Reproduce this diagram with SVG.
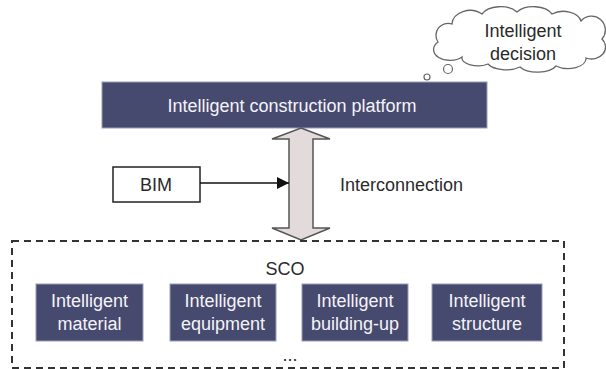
<svg xmlns="http://www.w3.org/2000/svg" width="606" height="369" viewBox="0 0 606 369">
<defs>
<style>
.nav{fill:#474a6f;stroke:#9a9cb8;stroke-width:1}
.wt{fill:#f4f4f8;font-family:"Liberation Sans",Arial,sans-serif;font-size:18px;text-anchor:middle}
.bt{fill:#2a2a2a;font-family:"Liberation Sans",Arial,sans-serif;font-size:18px}
</style>
<marker id="ah" viewBox="0 0 10 10" refX="10" refY="5" markerWidth="12" markerHeight="12" markerUnits="userSpaceOnUse" orient="auto">
<path d="M0,0 L10,5 L0,10 Z" fill="#111"/>
</marker>
</defs>
<rect width="606" height="369" fill="#ffffff"/>

<g id="cloud">
<path d="M438,42 A12,12 0 0 1 452,24 A18,14 0 0 1 482,14 A20,12 0 0 1 517,12 A20,12 0 0 1 552,14 A18,12 0 0 1 581,21 A12,12 0 0 1 602,39 A14,12 0 0 1 586,58 A18,10 0 0 1 556,66 A20,10 0 0 1 520,67 A20,10 0 0 1 488,64 A16,8 0 0 1 462,57 A12,8 0 0 1 438,42 Z" fill="#ffffff" stroke="#666" stroke-width="1.3"/>
<circle cx="448" cy="69" r="4.5" fill="#fff" stroke="#666" stroke-width="1.2"/>
<circle cx="427" cy="77" r="3" fill="#fff" stroke="#666" stroke-width="1.2"/>
<text class="bt" x="523" y="37" text-anchor="middle">Intelligent</text>
<text class="bt" x="523" y="60" text-anchor="middle">decision</text>
</g>

<g id="platform">
<rect class="nav" x="102" y="82" width="385" height="46"/>
<text class="wt" x="292" y="112">Intelligent construction platform</text>
</g>

<g id="bim">
<rect x="113" y="167" width="87" height="35" fill="#fff" stroke="#222" stroke-width="1.5"/>
<text class="bt" x="156" y="191" text-anchor="middle">BIM</text>
</g>

<g id="interconnection">
<text class="bt" x="340" y="191">Interconnection</text>
</g>

<g id="connectors">
<path d="M301,128 L330,139 L313,139 L313,228 L330,228 L301,240 L272,228 L289,228 L289,139 L272,139 Z" fill="#e2dadb" stroke="#555" stroke-width="1.5" stroke-linejoin="miter"/>
<line x1="200" y1="183" x2="289" y2="183" stroke="#111" stroke-width="1.5" marker-end="url(#ah)"/>
</g>

<g id="sco">
<rect x="12" y="241" width="552" height="127" fill="none" stroke="#333" stroke-width="2" stroke-dasharray="7,5"/>
<text class="bt" x="285" y="275" text-anchor="middle">SCO</text>
<text class="bt" x="290" y="361" text-anchor="middle">...</text>
</g>

<g id="material">
<rect class="nav" x="36" y="284" width="107" height="57"/>
<text class="wt" x="89.5" y="307">Intelligent</text>
<text class="wt" x="89.5" y="330">material</text>
</g>
<g id="equipment">
<rect class="nav" x="170" y="284" width="106" height="57"/>
<text class="wt" x="223" y="307">Intelligent</text>
<text class="wt" x="223" y="330">equipment</text>
</g>
<g id="building-up">
<rect class="nav" x="302" y="284" width="106" height="57"/>
<text class="wt" x="355" y="307">Intelligent</text>
<text class="wt" x="355" y="330">building-up</text>
</g>
<g id="structure">
<rect class="nav" x="432" y="284" width="110" height="57"/>
<text class="wt" x="487" y="307">Intelligent</text>
<text class="wt" x="487" y="330">structure</text>
</g>
</svg>
